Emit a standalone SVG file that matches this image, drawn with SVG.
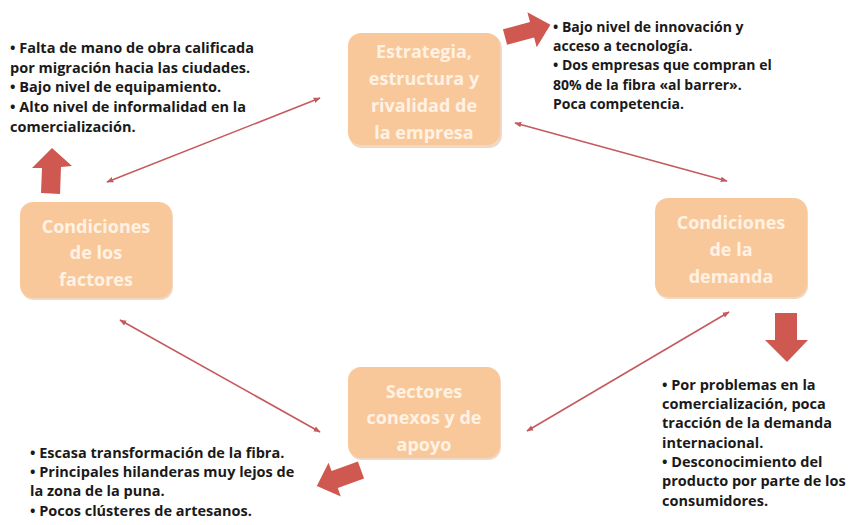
<svg xmlns="http://www.w3.org/2000/svg" width="849" height="525" viewBox="0 0 849 525">
<defs>
<style>
.box{fill:#F9C89A;}
.shadow{fill:#E2B48A;opacity:0.5;}
.nt{font-family:"Open Sans","Liberation Sans",sans-serif;font-weight:bold;font-size:18px;fill:#FFF2E4;text-anchor:middle;}
.tx{font-family:"Open Sans","Liberation Sans",sans-serif;font-weight:bold;font-size:14.5px;fill:#1A1A1A;}
.tr{font-size:14px;}
.conn{stroke:#C55A5E;stroke-width:1.6;fill:none;}
.blk{fill:#CF5850;}
</style>
<marker id="ah" viewBox="0 0 10 10" refX="9" refY="5" markerWidth="7" markerHeight="7" markerUnits="userSpaceOnUse" orient="auto-start-reverse">
<path d="M0,1 L10,5 L0,9 z" fill="#C55A5E"/>
</marker>
</defs>
<rect width="849" height="525" fill="#FFFFFF"/>

<g id="connectors">
<line class="conn" x1="320" y1="98" x2="107" y2="182" marker-start="url(#ah)" marker-end="url(#ah)"/>
<line class="conn" x1="515" y1="123" x2="727" y2="181" marker-start="url(#ah)" marker-end="url(#ah)"/>
<line class="conn" x1="120" y1="320" x2="320" y2="432" marker-start="url(#ah)" marker-end="url(#ah)"/>
<line class="conn" x1="729" y1="312" x2="527" y2="431" marker-start="url(#ah)" marker-end="url(#ah)"/>
</g>

<g id="block-arrows">
<polygon class="blk" points="52,148 72,166 61,167 60,194 41,193 42,168 32,168"/>
<polygon class="blk" points="0,-8 28,-8 28,-18 47,0 28,18 28,8 0,8" transform="translate(505,37) rotate(-15)"/>
<polygon class="blk" points="775,313 797,313 797,340 808,340 787,362 765,340 775,340"/>
<polygon class="blk" points="0,-9 28,-9 28,-18 47,0 28,18 28,9 0,9" transform="translate(361,470) rotate(160)"/>
</g>

<g id="node-estrategia">
<rect class="shadow" x="349" y="35" width="153" height="113" rx="13"/>
<rect class="box" x="348" y="33" width="152" height="112" rx="13"/>
<text class="nt" x="424" y="58">Estrategia,</text>
<text class="nt" x="424" y="85">estructura y</text>
<text class="nt" x="424" y="112">rivalidad de</text>
<text class="nt" x="424" y="139">la empresa</text>
</g>

<g id="node-factores">
<rect class="shadow" x="21" y="204" width="152" height="96" rx="13"/>
<rect class="box" x="20" y="202" width="152" height="96" rx="13"/>
<text class="nt" x="96" y="233">Condiciones</text>
<text class="nt" x="96" y="259">de los</text>
<text class="nt" x="96" y="286">factores</text>
</g>

<g id="node-demanda">
<rect class="shadow" x="656" y="200" width="152" height="99" rx="13"/>
<rect class="box" x="655" y="198" width="152" height="99" rx="13"/>
<text class="nt" x="731" y="229">Condiciones</text>
<text class="nt" x="731" y="256">de la</text>
<text class="nt" x="731" y="283">demanda</text>
</g>

<g id="node-sectores">
<rect class="shadow" x="349" y="369" width="152" height="91" rx="13"/>
<rect class="box" x="348" y="367" width="152" height="91" rx="13"/>
<text class="nt" x="424" y="398">Sectores</text>
<text class="nt" x="424" y="424">conexos y de</text>
<text class="nt" x="424" y="451">apoyo</text>
</g>

<g id="text-factores">
<text class="tx" x="10" y="53">• Falta de mano de obra calificada</text>
<text class="tx" x="10" y="73">por migración hacia las ciudades.</text>
<text class="tx" x="10" y="92">• Bajo nivel de equipamiento.</text>
<text class="tx" x="10" y="112">• Alto nivel de informalidad en la</text>
<text class="tx" x="10" y="132">comercialización.</text>
</g>

<g id="text-estrategia">
<text class="tx tr" x="553" y="32">• Bajo nivel de innovación y</text>
<text class="tx tr" x="553" y="51">acceso a tecnología.</text>
<text class="tx tr" x="553" y="70">• Dos empresas que compran el</text>
<text class="tx tr" x="553" y="90">80% de la fibra «al barrer».</text>
<text class="tx tr" x="553" y="109">Poca competencia.</text>
</g>

<g id="text-demanda">
<text class="tx" x="662" y="390">• Por problemas en la</text>
<text class="tx" x="662" y="409">comercialización, poca</text>
<text class="tx" x="662" y="428">tracción de la demanda</text>
<text class="tx" x="662" y="448">internacional.</text>
<text class="tx" x="662" y="467">• Desconocimiento del</text>
<text class="tx" x="662" y="486">producto por parte de los</text>
<text class="tx" x="662" y="506">consumidores.</text>
</g>

<g id="text-sectores">
<text class="tx" x="30" y="458">• Escasa transformación de la fibra.</text>
<text class="tx" x="30" y="477">• Principales hilanderas muy lejos de</text>
<text class="tx" x="30" y="496">la zona de la puna.</text>
<text class="tx" x="30" y="516">• Pocos clústeres de artesanos.</text>
</g>
</svg>
